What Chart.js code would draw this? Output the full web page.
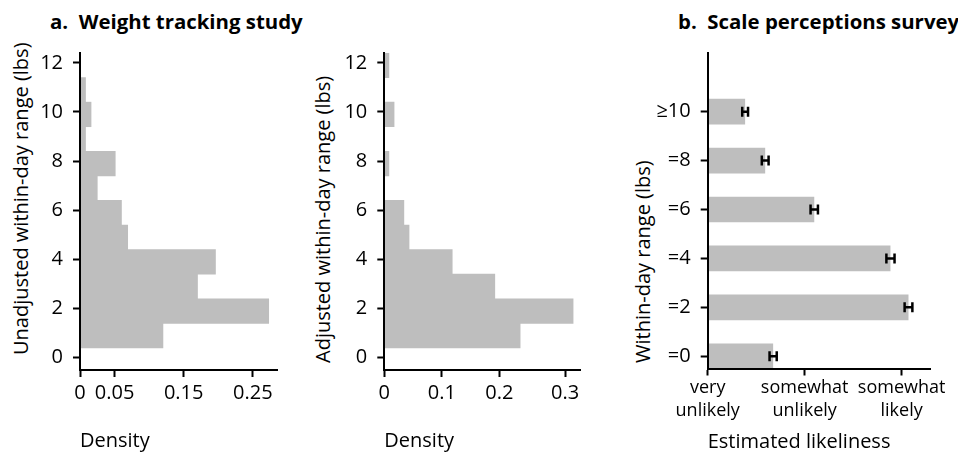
<!DOCTYPE html>
<html><head><meta charset="utf-8">
<script src="https://cdn.jsdelivr.net/npm/chart.js@4/dist/chart.umd.min.js"></script>
<style>
html,body{margin:0;padding:0;background:#fff;}
body{width:958px;height:456px;position:relative;overflow:hidden;font-family:"Open Sans",sans-serif;color:#000;}
canvas{position:absolute;top:0;}
.ptitle{position:absolute;top:10.5px;font-weight:700;font-size:20.4px;line-height:1;white-space:pre;}
.ytitle{position:absolute;font-size:20px;line-height:1;white-space:nowrap;transform:rotate(-90deg);transform-origin:0 0;}
</style></head><body>
<div class="ptitle" style="left:50px">a.  Weight tracking study</div>
<div class="ptitle" style="left:678px">b.  Scale perceptions survey</div>
<div class="ytitle" style="left:10.5px;top:354.5px">Unadjusted within-day range (lbs)</div>
<div class="ytitle" style="left:312.5px;top:362.5px">Adjusted within-day range (lbs)</div>
<div class="ytitle" style="left:632.5px;top:362.5px">Within-day range (lbs)</div>
<canvas id="c1" width="300" height="456" style="left:0px"></canvas>
<canvas id="c2" width="300" height="456" style="left:300px"></canvas>
<canvas id="c3" width="358" height="456" style="left:600px"></canvas>
<script>
// ---- data ----
const binCenters = [0.9, 1.9, 2.9, 3.9, 4.9, 5.9, 6.9, 7.9, 8.9, 9.9, 10.9, 11.9];
const unadjustedDensity = [0.120, 0.273, 0.170, 0.196, 0.069, 0.060, 0.025, 0.051, 0.008, 0.016, 0.008, 0];
const adjustedDensity = [0.236, 0.328, 0.192, 0.118, 0.043, 0.034, 0, 0.008, 0, 0.017, 0, 0.008];
const rangeTicks = [0, 2, 4, 6, 8, 10, 12];
const rangeTickLabels = ['0', '2', '4', '6', '8', '10', '12'];
const unadjTicks = [0, 0.05, 0.15, 0.25];
const unadjTickLabels = ['0', '0.05', '0.15', '0.25'];
const adjTicks = [0, 0.1, 0.2, 0.314];
const adjTickLabels = ['0', '0.1', '0.2', '0.3'];
const surveyLevels = [0, 2, 4, 6, 8, 10];
const surveyLabels = ['=0', '=2', '=4', '=6', '=8', '\u226510'];
const likelinessMean = [1.675, 3.071, 2.885, 2.099, 1.593, 1.386];
const likelinessErr = [0.037, 0.040, 0.042, 0.038, 0.035, 0.030];
const likelinessTicks = [1, 2, 3];
const likelinessTickLabels = [['very', 'unlikely'], ['somewhat', 'unlikely'], ['somewhat', 'likely']];

// ---- styling ----
const FONT = '"Open Sans", sans-serif';
const GRAY = '#bebebe';
const gridOpts = {display: true, drawOnChartArea: false, drawTicks: true, tickLength: 7, tickWidth: 2, tickColor: '#000', offset: false};
const borderOpts = {display: true, color: '#000', width: 2, z: 1};
const tickFont = {family: FONT, size: 20};

function baseOpts(padRight) {
  return {
    responsive: false, animation: false, devicePixelRatio: 1, events: [],
    indexAxis: 'y',
    layout: {padding: {top: 53, right: padRight, left: 0, bottom: 0}},
    plugins: {legend: {display: false}, tooltip: {enabled: false}, title: {display: false}}
  };
}

function histChart(id, dens, xTicks, xLabels, xMax, areaLeft, padRight) {
  const opts = baseOpts(padRight);
  opts.scales = {
    y: {
      type: 'linear', min: -0.5, max: 12.4, offset: false,
      afterFit: s => { s.width = areaLeft; },
      afterBuildTicks: s => { s.ticks = rangeTicks.map(v => ({value: v})); },
      grid: gridOpts, border: borderOpts,
      ticks: {color: '#000', font: tickFont, padding: 10, autoSkip: false, callback: (v, i) => rangeTickLabels[i]}
    },
    x: {
      type: 'linear', min: 0, max: xMax, offset: false,
      afterFit: s => { s.height = 86; },
      afterBuildTicks: s => { s.ticks = xTicks.map(v => ({value: v})); },
      grid: gridOpts, border: borderOpts,
      ticks: {color: '#000', font: tickFont, padding: 4, autoSkip: false, maxRotation: 0, callback: (v, i) => xLabels[i]},
      title: {display: true, text: 'Density', align: 'start', color: '#000', font: {family: FONT, size: 20}, padding: {top: 0, bottom: 2.5}}
    }
  };
  return new Chart(document.getElementById(id), {
    type: 'bar',
    data: {datasets: [{
      data: binCenters.map((c, i) => ({x: dens[i], y: c})),
      backgroundColor: GRAY, borderWidth: 0,
      barPercentage: 1, categoryPercentage: 1
    }]},
    options: opts
  });
}

histChart('c1', unadjustedDensity, unadjTicks, unadjTickLabels, 0.285, 80, 23);
histChart('c2', adjustedDensity, adjTicks, adjTickLabels, 0.340, 84.3, 20);

const errorBars = {
  id: 'errorBars',
  afterDatasetsDraw(chart) {
    const {ctx, scales: {x, y}} = chart;
    ctx.save();
    ctx.strokeStyle = '#000';
    ctx.lineWidth = 2.5;
    surveyLevels.forEach((lv, i) => {
      const py = y.getPixelForValue(lv);
      const x1 = x.getPixelForValue(likelinessMean[i] - likelinessErr[i]);
      const x2 = x.getPixelForValue(likelinessMean[i] + likelinessErr[i]);
      ctx.beginPath();
      ctx.moveTo(x1, py); ctx.lineTo(x2, py);
      ctx.moveTo(x1, py - 5); ctx.lineTo(x1, py + 5);
      ctx.moveTo(x2, py - 5); ctx.lineTo(x2, py + 5);
      ctx.stroke();
    });
    ctx.restore();
  }
};

const o3 = baseOpts(27.3);
o3.scales = {
  y: {
    type: 'linear', min: -0.5, max: 12.4, offset: false,
    afterFit: s => { s.width = 107.7; },
    afterBuildTicks: s => { s.ticks = surveyLevels.map(v => ({value: v})); },
    grid: gridOpts, border: borderOpts,
    ticks: {color: '#000', font: tickFont, padding: 10, autoSkip: false, callback: (v, i) => surveyLabels[i]}
  },
  x: {
    type: 'linear', min: 1, max: 3.3, offset: false,
    afterFit: s => { s.height = 87.5; },
    afterBuildTicks: s => { s.ticks = likelinessTicks.map(v => ({value: v})); },
    grid: gridOpts, border: borderOpts,
    ticks: {color: '#000', font: {family: FONT, size: 18, lineHeight: 1.24}, padding: 1.5, autoSkip: false, maxRotation: 0, callback: (v, i) => likelinessTickLabels[i]},
    title: {display: true, text: 'Estimated likeliness', align: 'start', color: '#000', font: {family: FONT, size: 20}, padding: {top: 0, bottom: 2}}
  }
};
new Chart(document.getElementById('c3'), {
  type: 'bar',
  data: {datasets: [{
    data: surveyLevels.map((lv, i) => ({x: likelinessMean[i], y: lv})),
    backgroundColor: GRAY, borderWidth: 0,
    barPercentage: 0.525, categoryPercentage: 1
  }]},
  options: o3,
  plugins: [errorBars]
});
</script>
</body></html>
